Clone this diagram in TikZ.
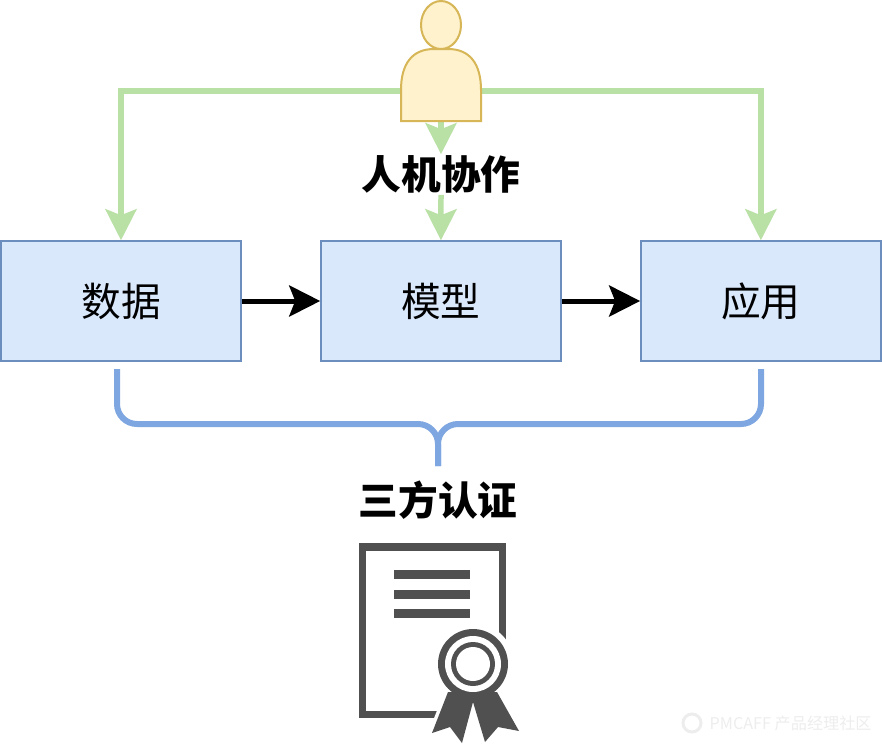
\documentclass[tikz,border=0pt]{standalone}
\usepackage{fontspec}
\setmainfont{Noto Sans CJK SC}
\usetikzlibrary{arrows.meta}
\definecolor{boxfill}{HTML}{DAE8FC}
\definecolor{boxline}{HTML}{6C8EBF}
\definecolor{userfill}{HTML}{FFF2CC}
\definecolor{userline}{HTML}{D6B656}
\definecolor{flowgreen}{HTML}{B9E0A5}
\definecolor{bracketblue}{HTML}{7EA6E0}
\definecolor{certgray}{HTML}{505050}
\tikzset{
    stagebox/.style={draw=boxline,fill=boxfill,line width=.03cm,minimum width=4.8cm,minimum height=2.4cm,inner sep=0pt,font=\fontsize{22.6pt}{26pt}\selectfont},
    titlelabel/.style={inner sep=0pt,minimum width=3.2cm,minimum height=.8cm,font=\fontsize{22.6pt}{26pt}\selectfont\bfseries},
    greenflow/.style={draw=flowgreen,line width=.11cm,-{Stealth[length=.62cm,width=.62cm,inset=.12cm]}},
    blackflow/.style={draw=black,line width=.1cm,-{Stealth[length=.62cm,width=.62cm,inset=.12cm]}},
    bracket/.style={draw=bracketblue,line width=.12cm,rounded corners=.4cm}
}
\begin{document}
\begin{tikzpicture}[x=.02cm,y=-.02cm,node distance=6.4cm]
    \useasboundingbox (0,0) rectangle (882,744);
    % boxes
    \node[stagebox] (data) at (121,301) {数据};
    \node[stagebox] (model) [right of=data] {模型};
    \node[stagebox] (app) [right of=model] {应用};
    \node[titlelabel] (collab) at (441,174.5) {人机协作};
    \node[titlelabel] (audit) at (438,500) {三方认证};
    \node[inner sep=0pt,minimum width=1.6cm,minimum height=1.2cm] (user) at (441,91) {};

    \draw[greenflow] (user.west) -| (data.north);
    \draw[greenflow] (user.east) -| (app.north);
    \draw[greenflow] (user.south) -- (collab.north);
    \draw[greenflow] (collab.south) -- (model.north);
    \draw[blackflow] (data) -- (model);
    \draw[blackflow] (model) -- (app);

    % person
    \draw[userline,fill=userfill,line width=.04cm] (441,25) ellipse (20 and 24);
    \draw[userline,fill=userfill,line width=.04cm] (401,121) -- (401,90)
        .. controls (401,64) and (412,49) .. (434,49) -- (448,49)
        .. controls (470,49) and (481,64) .. (481,90) -- (481,121) -- cycle;

    % brace
    \coordinate (braceL) at (117,369);
    \coordinate (braceR) at (761,369);
    \coordinate (braceM) at (438,424);
    \coordinate (braceT) at (438,466);
    \draw[bracket] (braceL) |- (braceM) -- (braceT);
    \draw[bracket] (braceR) |- (braceM) -- (braceT);

    % certificate
    \draw[certgray,line width=.15cm] (502.5,645) -- (502.5,547) -- (362.5,547) -- (362.5,714.5) -- (440,714.5);
    \foreach \y in {574.5,594,613.5} {
        \fill[certgray] (394,\y-4.5) rectangle (470,\y+4.5);
    }
    \fill[white] (473,664) circle [radius=41];
    \draw[white,line width=.14cm] (448,692) -- (432,733) -- (450,727) -- (462,743) -- (473,702)
        -- (485,742) -- (498,727) -- (519,731) -- (497,692);
    \fill[certgray] (448,692) -- (432,733) -- (450,727) -- (462,743) -- (473,702)
        -- (485,742) -- (498,727) -- (519,731) -- (497,692) -- cycle;
    \fill[certgray] (473,664) circle [radius=35];
    \fill[white] (473,664) circle [radius=28];
    \fill[certgray] (473,664) circle [radius=22];
    \fill[white] (473,664) circle [radius=17];

    % watermark
    \node[inner sep=0pt,text=black!7,font=\fontsize{9.2pt}{11pt}\selectfont,anchor=east] (mark) at (872,723) {PMCAFF 产品经理社区};
    \draw[black!7,line width=.06cm] (692,723) circle [radius=9];
\end{tikzpicture}
\end{document}
